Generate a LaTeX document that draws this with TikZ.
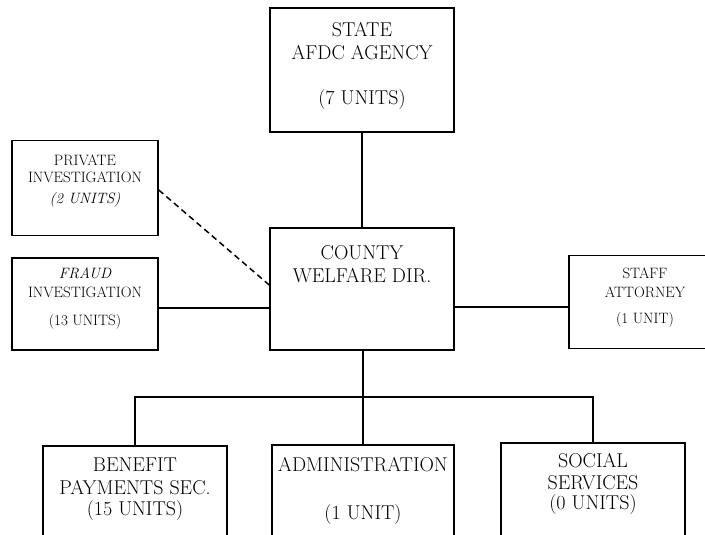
\documentclass[tikz,border=0pt]{standalone}
\usepackage{tikz}
\usetikzlibrary{positioning}
\usetikzlibrary{calc}
\tikzstyle{unitbox}=[rectangle,draw,line width=1.5pt,inner sep=0pt]
\tikzstyle{biglabel}=[font=\fontsize{20}{20}\selectfont,inner sep=0pt]
\tikzstyle{smalllabel}=[font=\fontsize{15}{15}\selectfont,inner sep=0pt]
\tikzstyle{link} = [draw,line width=1.5pt]
\tikzstyle{dashlink} = [draw,line width=1.5pt,dash pattern=on 6pt off 4pt]

\begin{document}
\begin{tikzpicture}[x=1pt,y=-1pt]
    \useasboundingbox (0,0) rectangle (705,535);
    % First we draw the boxes
    \foreach \pos/\name/\w/\h in {{(362,70)/state/184/124}, {(362,289)/county/184/122},
        {(85,188)/private/146/95}, {(85,304)/fraud/146/92}, {(645,302)/staff/152/93},
        {(135,503)/benefit/184/114}, {(363,503)/admin/182/116}, {(593,502)/social/184/118}}
        \node[unitbox,minimum width=\w pt,minimum height=\h pt] (\name) at \pos {};

    % Then the texts
    \foreach \pos/\name/\label in {{(362,30)/stateA/STATE}, {(362,53)/stateB/AFDC AGENCY},
        {(362,100)/stateC/(7 UNITS)}, {(362,253)/countyA/COUNTY}, {(362,276)/countyB/WELFARE DIR.},
        {(135,465)/benefitA/BENEFIT}, {(135,488)/benefitB/PAYMENTS SEC.}, {(135,511)/benefitC/(15 UNITS)},
        {(363,465)/adminA/ADMINISTRATION}, {(363,515)/adminB/(1 UNIT)},
        {(593,461)/socialA/SOCIAL}, {(593,483)/socialB/SERVICES}, {(593,505)/socialC/(0 UNITS)}}
        \node[biglabel] (\name) at \pos {\label};

    \foreach \pos/\name/\label in {{(85,160)/privateA/PRIVATE}, {(85,177)/privateB/INVESTIGATION},
        {(85,200)/privateC/\itshape (2 UNITS)}, {(85,273)/fraudA/\itshape FRAUD},
        {(85,292)/fraudB/INVESTIGATION}, {(85,322)/fraudC/(13 UNITS)},
        {(645,273)/staffA/STAFF}, {(645,292)/staffB/ATTORNEY}, {(645,320)/staffC/(1 UNIT)}}
        \node[smalllabel] (\name) at \pos {\label};

    % Connect the boxes
    \coordinate (bus) at (363,397);
    \path[link] (state) -- (county);
    \path[link] ([yshift=-4pt]fraud.east) -- ([yshift=-4pt]fraud.east -| county.west);
    \path[link] ([yshift=-5pt]staff.west -| county.east) -- ([yshift=-5pt]staff.west);
    \path[dashlink] ([yshift=-2pt]private.east) -- ([yshift=4pt]county.west);
    \path[link] (county.south -| bus) -- (bus) -- (admin.north);
    \path[link] (benefit.north) |- (bus) -| (social.north);
\end{tikzpicture}
\end{document}
